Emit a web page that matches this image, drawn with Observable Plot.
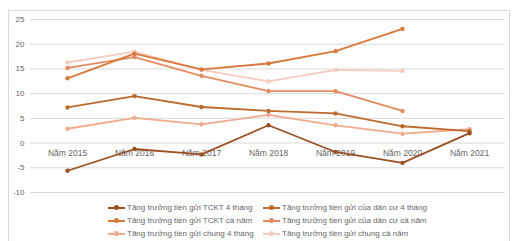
<!DOCTYPE html>
<html>
<head>
<meta charset="utf-8">
<script src="https://cdn.jsdelivr.net/npm/d3@7"></script>
<script src="https://cdn.jsdelivr.net/npm/@observablehq/plot@0.6"></script>
<style>
  html, body { margin: 0; padding: 0; background: #fff; }
  body { width: 514px; height: 241px; position: relative; overflow: hidden; font-family: "Liberation Sans", Arial, sans-serif; }
  #frame { position: absolute; left: 8px; top: 10px; width: 502px; height: 240px; border: 1px solid #d9d9d9; box-sizing: border-box; }
  #chart { position: absolute; left: 0; top: 0; }
  #legend { position: absolute; left: 108px; top: 201px; display: grid; grid-template-columns: 155px 200px; row-gap: 0px; font-size: 8px; color: #666; }
  .item { display: flex; align-items: center; height: 13px; white-space: nowrap; }
  .sw { position: relative; width: 17px; height: 2px; margin-right: 2px; }
  .sw i { position: absolute; left: 6px; top: -1.5px; width: 5px; height: 5px; border-radius: 50%; }
</style>
</head>
<body>
<div id="frame"></div>
<div id="chart"></div>
<div id="legend"></div>
<script>
const years = ["Năm 2015","Năm 2016","Năm 2017","Năm 2018","Năm 2019","Năm 2020","Năm 2021"];
const yTicks = [-10, -5, 0, 5, 10, 15, 20, 25];

const seriesNames = [
  "Tăng trưởng tiền gửi TCKT 4 tháng",
  "Tăng trưởng tiền gửi của dân cư 4 tháng",
  "Tăng trưởng tiền gửi TCKT cả năm",
  "Tăng trưởng tiền gửi của dân cư cả năm",
  "Tăng trưởng tiền gửi chung 4 tháng",
  "Tăng trưởng tiền gửi chung cả năm"
];
const seriesColors = ["#9a5024", "#bd6a2e", "#d9783a", "#e28c60", "#f1aa8e", "#f5cbbf"];

const tckt4 =   [-5.6, -1.2, -2.3, 3.6, -1.8, -4.0, 2.0];
const dancu4 =  [7.2, 9.5, 7.3, 6.5, 6.0, 3.4, 2.4];
const tcktNam = [13.1, 18.1, 14.9, 16.1, 18.6, 23.1, null];
const dancuNam = [15.2, 17.4, 13.6, 10.5, 10.5, 6.5, null];
const chung4 =  [2.9, 5.1, 3.8, 5.7, 3.6, 1.9, 2.8];
const chungNam = [16.3, 18.5, 14.8, 12.5, 14.8, 14.6, null];

const allSeries = [tckt4, dancu4, tcktNam, dancuNam, chung4, chungNam];
const data = [];
allSeries.forEach((vals, s) => vals.forEach((v, i) => {
  if (v != null) data.push({series: seriesNames[s], year: years[i], value: v});
}));
const drawOrder = [5, 4, 3, 2, 1, 0];

const marks = [
  Plot.ruleY(yTicks, {stroke: "#d9d9d9", strokeWidth: 1}),
  Plot.axisY({ticks: yTicks, tickSize: 0, tickPadding: 6, fontSize: 8, fill: "#666", tickFormat: d => d, label: null}),
  Plot.text(years, {x: d => d, y: 0, dy: 10, fontSize: 8.5, fill: "#666", text: d => d})
];
drawOrder.forEach(s => {
  const sd = data.filter(d => d.series === seriesNames[s]);
  marks.push(Plot.line(sd, {x: "year", y: "value", stroke: seriesColors[s], strokeWidth: 1.8}));
  marks.push(Plot.dot(sd, {x: "year", y: "value", fill: seriesColors[s], r: 2.2}));
});

const chart = Plot.plot({
  width: 514,
  height: 200,
  marginLeft: 30,
  marginRight: 9,
  marginTop: 19,
  marginBottom: 8,
  style: {background: "transparent", fontFamily: "Liberation Sans, Arial, sans-serif"},
  x: {type: "point", domain: years, padding: 0.5, axis: null},
  y: {domain: [-10, 25], axis: null, label: null},
  marks
});
document.getElementById("chart").appendChild(chart);

const legend = document.getElementById("legend");
[0, 1, 2, 3, 4, 5].forEach(s => {
  const it = document.createElement("div");
  it.className = "item";
  it.innerHTML = `<span class="sw" style="background:${seriesColors[s]}"><i style="background:${seriesColors[s]}"></i></span><span>${seriesNames[s]}</span>`;
  legend.appendChild(it);
});
</script>
</body>
</html>
